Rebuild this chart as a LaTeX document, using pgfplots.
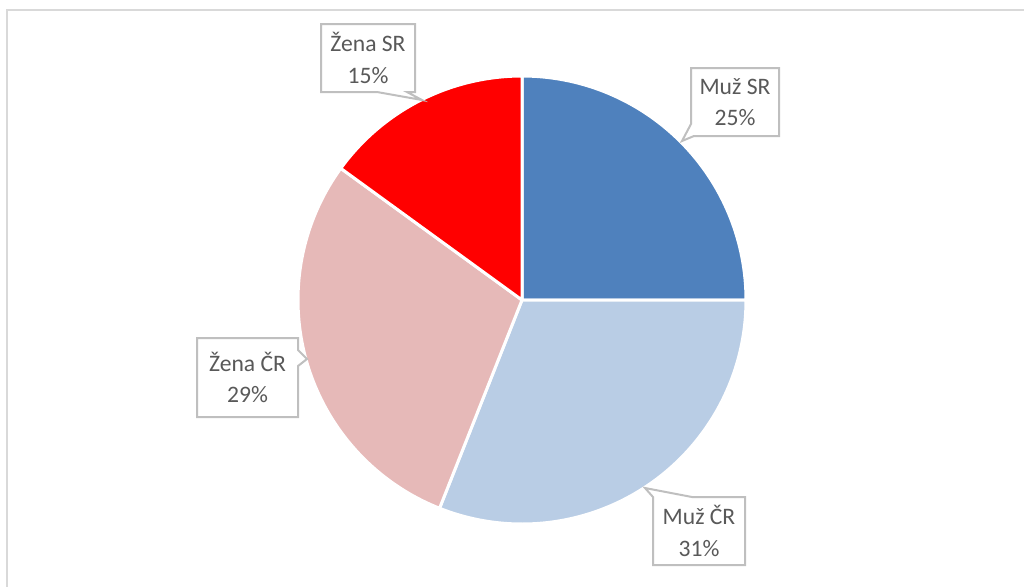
\documentclass[border=0pt]{standalone}
\usepackage{pgfplots}
\pgfplotsset{compat=1.18}
\usepackage{pgfplotstable}
\usepackage{fontspec}
\setmainfont{Carlito}
\definecolor{mSR}{HTML}{4F81BD}
\definecolor{mCR}{HTML}{B9CDE5}
\definecolor{zCR}{HTML}{E6B9B8}
\definecolor{zSR}{HTML}{FF0000}
\definecolor{lbl}{HTML}{595959}
\definecolor{brd}{HTML}{BFBFBF}
\definecolor{frame}{HTML}{D9D9D9}

% share of each group (percent), drawn clockwise from 12 o'clock
\pgfplotstableread[col sep=comma]{
key,value,col
MuzSR,25,mSR
MuzCR,31,mCR
ZenaCR,29,zCR
ZenaSR,15,zSR
}\piedata

\begin{document}
\begin{tikzpicture}
\begin{axis}[
  scale only axis,
  width=512pt, height=293pt,
  xmin=0, xmax=1024, ymin=0, ymax=586,
  y dir=reverse,
  axis lines=none,
  clip=false,
]
\coordinate (bl) at (axis cs:0,586);
\coordinate (tr) at (axis cs:1024,0);
% chart frame
\draw[frame, line width=1pt] (axis cs:7,600) -- (axis cs:7,10) -- (axis cs:1030,10);

% pie slices
\gdef\startang{90}
\pgfplotsforeachungrouped \i in {0,...,3}{
  \pgfplotstablegetelem{\i}{value}\of\piedata \let\val\pgfplotsretval
  \pgfplotstablegetelem{\i}{col}\of\piedata \let\col\pgfplotsretval
  \pgfmathsetmacro\endang{\startang - 3.6*\val}
  \edef\tmp{\noexpand\fill[\col, draw=white, line width=1.5pt, line join=round]
    (axis cs:522,300) -- ++(\startang:112pt) arc[start angle=\startang, end angle=\endang, radius=112pt] -- cycle;}
  \tmp
  \global\let\startang\endang
}

% callouts
\tikzset{callout/.style={draw=brd, fill=white, line width=1pt, line join=miter},
         lab/.style={text=lbl, align=center, font=\fontsize{11.8}{15.8}\selectfont}}
\path[callout] (axis cs:691,68) -- (axis cs:779,68) -- (axis cs:779,136) -- (axis cs:694,136)
  -- (axis cs:682,141) -- (axis cs:691,124) -- cycle;
\node[lab] at (axis cs:735,102) {Muž SR\\25\%};

\path[callout] (axis cs:321,24) -- (axis cs:415,24) -- (axis cs:415,92) -- (axis cs:407,92)
  -- (axis cs:422,100) -- (axis cs:377,92) -- (axis cs:321,92) -- cycle;
\node[lab] at (axis cs:368,58) {Žena SR\\15\%};

\path[callout] (axis cs:197,338) -- (axis cs:298,338) -- (axis cs:298,350) -- (axis cs:307,359)
  -- (axis cs:298,366) -- (axis cs:298,417) -- (axis cs:197,417) -- cycle;
\node[lab] at (axis cs:247.5,377.5) {Žena ČR\\29\%};

\path[callout] (axis cs:653,497) -- (axis cs:645,488) -- (axis cs:692,497) -- (axis cs:745,497)
  -- (axis cs:745,565) -- (axis cs:653,565) -- cycle;
\node[lab] at (axis cs:699,531) {Muž ČR\\31\%};
\end{axis}
\pgfresetboundingbox
\useasboundingbox (bl) rectangle (tr);
\end{tikzpicture}
\end{document}
